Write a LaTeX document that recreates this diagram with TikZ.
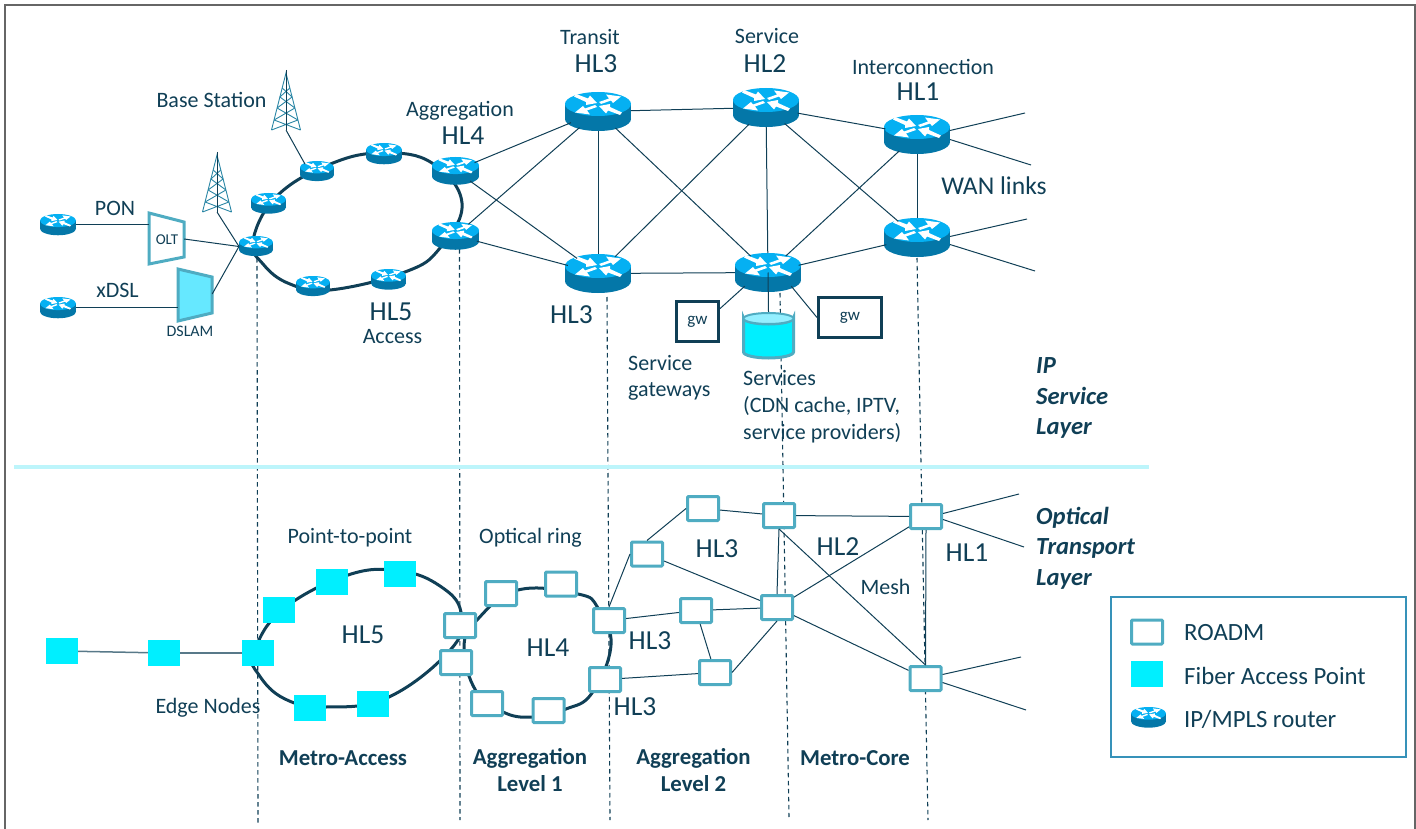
\documentclass[tikz,border=0pt]{standalone}
\usepackage{fontspec}
\setmainfont{Carlito}
\usetikzlibrary{shapes.geometric,backgrounds,calc}
\definecolor{ink}{HTML}{103F56}
\definecolor{rtop}{HTML}{05B0F2}
\definecolor{rside}{HTML}{0477A8}
\definecolor{teal}{HTML}{4FACC2}
\definecolor{aqua}{HTML}{00EFFF}
\definecolor{lightaqua}{HTML}{66E8FF}
\definecolor{tower}{HTML}{2A86A5}
\definecolor{sepline}{HTML}{BDF5FB}
\tikzset{
  routernode/.style={ellipse,inner sep=0pt,outer sep=0pt},
  link/.style={draw=ink,line width=1pt},
  ringline/.style={draw=ink,line width=3pt},
  dashline/.style={draw=ink,line width=1.1pt,dash pattern=on 4.5pt off 3.5pt},
  roadm/.style={draw=teal,fill=white,line width=3pt,rounded corners=1pt,minimum width=31pt,minimum height=24pt,inner sep=0pt},
  fap/.style={fill=aqua,minimum width=32pt,minimum height=26pt,inner sep=0pt},
  gwbox/.style={draw=ink,fill=white,line width=3pt,inner sep=0pt,text=ink,font=\fontsize{17}{19}\selectfont},
  lab/.style={text=ink,inner sep=0pt,font=\fontsize{22}{26}\selectfont,align=left},
  hl/.style={text=ink,inner sep=0pt,font=\fontsize{27.5}{30}\selectfont},
  bld/.style={text=ink,inner sep=0pt,font=\bfseries\fontsize{22.8}{27}\selectfont,align=center},
  layerlab/.style={text=ink,inner sep=0pt,font=\bfseries\itshape\fontsize{24.6}{30.5}\selectfont,align=left},
  leglab/.style={text=ink,inner sep=0pt,font=\fontsize{24.8}{28}\selectfont,anchor=west},
}
\newcommand{\routerart}[4]{%
  \pgfmathsetmacro{\rs}{#3/66}%
  \begin{scope}[shift={(#1,#2)},scale=\rs]
    \fill[rside] (0,27) ellipse [x radius=33,y radius=12];
    \fill[rside] (-33,12) rectangle (33,27);
    \fill[rtop] (0,12) ellipse [x radius=33,y radius=12];
    \begin{scope}[shift={(0,12.5)}]
      \foreach \r in {0,180}{
        \fill[white,rotate=\r] (1,-2.5) -- (11,-6) -- (8,-10) -- (23,-8) -- (15,-1.5) -- (13,-4) -- (3,-0.5) -- cycle;
        \fill[white,rotate=\r] (-24,-8) -- (-22,-10.5) -- (-10,-6) -- (-8,-9) -- (-1,-1.5) -- (-12,0.5) -- (-12,-2.5) -- cycle;
      }
    \end{scope}
  \end{scope}}
\newcommand{\router}[5]{% name, cx, top, width, height
  \routerart{#2}{#3}{#4}{}%
  \node[routernode,minimum width=#4pt,minimum height=#5pt] (#1) at (#2,#3+#5/2) {};}
\newcommand{\towerart}[3]{% name, x, apex y
  \begin{scope}[shift={(#2,#3)}]
    \draw[tower,line width=0.9pt] (-14.5,60) -- (0,3) -- (14.5,60);
    \foreach \a/\wa/\b/\wb in {18/3.8/27/6.1,27/6.1/38/8.9,38/8.9/50/11.9,50/11.9/60/14.5}{
      \draw[tower,line width=0.9pt] (-\wa,\a) -- (\wb,\b) (\wa,\a) -- (-\wb,\b);
    }
    \draw[ink,line width=1pt] (0,0) -- (0,60);
  \end{scope}
  \node[inner sep=0pt,minimum size=0pt] (#1) at (#2,#3+60) {};}
\begin{document}
\begin{tikzpicture}[x=1pt,y=-1pt]
\useasboundingbox (0,0) rectangle (1416,829);
% frame
\draw[draw=black!60,line width=2pt] (5,829) -- (5,5.5) -- (1414.5,5.5) -- (1414.5,829);
% separator
\fill[sepline] (14,464.5) rectangle (1149,468.5);

% routers
\router{T}{598}{92}{66}{39}
\router{Sv}{766}{88}{66}{39}
\router{Ia}{917}{115}{66}{39}
\router{Ib}{917}{218}{66}{39}
\router{Tb}{598}{254}{66}{39}
\router{Sb}{768}{253}{66}{39}
\router{Aa}{455.5}{157}{47}{27}
\router{Ab}{455.5}{222}{47}{27}
\router{pa}{58}{214}{36}{20.5}
\router{pb}{58}{297}{36}{20.5}
\router{hub}{256}{236}{34}{21}
\router{ra}{268.5}{193}{35}{20.5}
\router{rb}{317}{161}{34}{21}
\router{rc}{384}{143}{36}{20.5}
\router{rd}{313}{276}{34}{20.5}
\router{re}{388.5}{269}{35}{20.5}

% towers
\towerart{ta}{286}{70}
\towerart{tb}{217}{152}

% OLT, DSLAM
\node[inner sep=0pt,minimum width=35pt,minimum height=51pt] (olt) at (166.5,238.5) {};
\draw[draw=teal,fill=white,line width=3pt] (149,213) -- (184,222) -- (184,257) -- (149,264) -- cycle;
\node[inner sep=0pt,text=ink,font=\fontsize{15}{17}\selectfont] at (167,240) {OLT};
\node[inner sep=0pt,minimum width=34pt,minimum height=52pt] (dslam) at (195,295) {};
\draw[draw=teal,fill=lightaqua,line width=3pt] (178,269) -- (212,277) -- (212,313) -- (178,321) -- cycle;
\node[inner sep=0pt,text=ink,font=\fontsize{16}{18}\selectfont] at (190,331) {DSLAM};

% gateways and services
\node[gwbox,minimum width=42pt,minimum height=40pt] (gwa) at (697.5,321.5) {gw};
\node[gwbox,minimum width=63pt,minimum height=40pt] (gwb) at (850,317.5) {gw};
\node[inner sep=0pt,minimum width=53pt,minimum height=47pt] (cyl) at (768.5,335.5) {};
\draw[draw=teal,fill=aqua,line width=3pt] (743.5,318) -- (743.5,352) arc[start angle=180,end angle=0,x radius=25,y radius=6] -- (793.5,318) arc[start angle=0,end angle=180,x radius=25,y radius=6] -- cycle;
\draw[draw=teal,fill=lightaqua!70!white,line width=2pt] (768.5,318.5) ellipse [x radius=25,y radius=5.5];

% ROADMs
\node[roadm] (ra1) at (703,508.5) {};
\node[roadm] (ra2) at (647,554) {};
\node[roadm] (ra3) at (779,515.5) {};
\node[roadm] (ra4) at (926,516.5) {};
\node[roadm] (ra5) at (696,610.5) {};
\node[roadm] (ra6) at (777,607.5) {};
\node[roadm] (ra7) at (715,672.5) {};
\node[roadm] (ra8) at (925.5,678.5) {};
\node[roadm] (oa) at (609,620.5) {};
\node[roadm] (ob) at (605,679.5) {};
\node[roadm] (oc) at (561,584) {};
\node[roadm] (od) at (501,593.5) {};
\node[roadm] (oe) at (487,703.5) {};
\node[roadm] (of) at (548.5,710.5) {};
\node[roadm] (og) at (460,625.5) {};
\node[roadm] (oh) at (456,662.5) {};

% fiber access points
\node[fap] (sa) at (62,651) {};
\node[fap] (sb) at (164,653) {};
\node[fap] (sc) at (258,653) {};
\node[fap] (sd) at (279,610) {};
\node[fap] (se) at (332,582) {};
\node[fap] (sf) at (400,574) {};
\node[fap] (sg) at (310,708) {};
\node[fap] (sh) at (373,704) {};

% free ends
\coordinate (wa) at (1025,113);
\coordinate (wb) at (1031,165);
\coordinate (wc) at (1027,219);
\coordinate (wd) at (1035,271);
\coordinate (xa) at (1019,494);
\coordinate (xb) at (1024,547);
\coordinate (xc) at (1021,657);
\coordinate (xd) at (1026,710);

\begin{scope}[on background layer]
  % dashed drops
  \draw[dashline] (257,258) -- (258,823);
  \draw[dashline] (459.5,249) -- (460,820);
  \draw[dashline] (607,297) -- (610,820);
  \draw[dashline] (780,293) -- (789,817);
  \draw[dashline] (917,258) -- (928,820);
  % rings
  \draw[ringline] plot[smooth cycle,tension=0.7] coordinates {(253,240) (278,195) (333,163) (384,153) (432,163) (462,203) (440,248) (405,272) (330,290) (290,284) (263,264)};
  \draw[ringline] plot[smooth cycle,tension=0.7] coordinates {(254,653) (282,610) (348,575) (400,571) (440,586) (461,612) (452,648) (389,697) (326,707) (285,699) (259,675)};
  \draw[ringline] plot[smooth cycle,tension=0.7] coordinates {(464,648) (477,620) (518,590) (578,594) (598,608) (611,645) (592,693) (566,709) (532,717) (503,712) (476,691)};
\end{scope}

% IP mesh
\draw[link] (Aa) -- (T);
\draw[link] (Aa) -- (Tb);
\draw[link] (Ab) -- (T);
\draw[link] (Ab) -- (Tb);
\draw[link] (T) -- (Sv);
\draw[link] (T) -- (Tb);
\draw[link] (T) -- (Sb);
\draw[link] (Tb) -- (Sv);
\draw[link] (Tb) -- (Sb);
\draw[link] (Sv) -- (Sb);
\draw[link] (Sv) -- (Ia);
\draw[link] (Sv) -- (Ib);
\draw[link] (Sb) -- (Ia);
\draw[link] (Sb) -- (Ib);
\draw[link] (Ia) -- (Ib);
\draw[link] ($(Ia.east)+(0,-4)$) -- (wa);
\draw[link] ($(Ia.east)+(0,5)$) -- (wb);
\draw[link] ($(Ib.east)+(0,-1)$) -- (wc);
\draw[link] ($(Ib.east)+(0,7)$) -- (wd);
\draw[link] (Sb.south west) -- ($(gwa.north east)!0.2!(gwa.south east)$);
\draw[link] (Sb.south east) -- (gwb.west);
\draw[link] (Sb.center) -- (cyl.north);
% access
\draw[link] (pa.east) -- (pa.east -| olt.west);
\draw[link] (pb.east) -- (pb.east -| dslam.west);
\draw[link] ($(olt.east)+(0,0.5)$) -- (hub.west);
\draw[link] ($(dslam.east)+(0,-1)$) -- (hub.west);
\draw[link] (tb) -- (hub.west);
\draw[link] (ta) -- (rb.north west);
% optical mesh
\draw[link] (ra2.north) -- (ra1.west);
\draw[link] (ra1) -- (ra3);
\draw[link] (oa.north) -- (ra2.west);
\draw[link] (ra2) -- (ra6);
\draw[link] (ra3) -- (ra4);
\draw[link] (ra3.south) -- (ra6.north);
\draw[link] (ra3.south) -- (ra8.north);
\draw[link] (ra4) -- (ra6);
\draw[link] (ra4.south) -- (ra8.north);
\draw[link] (ra6) -- (ra8);
\draw[link] (oa) -- (ra5);
\draw[link] (ra5) -- (ra6);
\draw[link] (ra5) -- (ra7);
\draw[link] (ob) -- (ra7);
\draw[link] (ra7.east) -- (ra6.south);
\draw[link] ($(ra4.east)+(0,-3)$) -- (xa);
\draw[link] ($(ra4.east)+(0,3)$) -- (xb);
\draw[link] ($(ra8.east)+(0,-4)$) -- (xc);
\draw[link] ($(ra8.east)+(0,4)$) -- (xd);
\draw[draw=ink!70!white,line width=1.5pt] (sa) -- (sb);
\draw[draw=ink!70!white,line width=1.5pt] (sb) -- (sc);

% labels
\node[lab] at (211.5,100) {Base Station};
\node[lab] at (115,208) {PON};
\node[lab] at (117.5,290) {xDSL};
\node[hl] at (391,312) {HL5};
\node[lab] at (392.5,337) {Access};
\node[lab] at (460,110.5) {Aggregation};
\node[hl] at (463,136) {HL4};
\node[lab] at (590,37) {Transit};
\node[hl] at (596,64) {HL3};
\node[lab] at (767,36) {Service};
\node[hl] at (765,64) {HL2};
\node[lab] at (923,67) {Interconnection};
\node[hl] at (918,92) {HL1};
\node[lab,font=\fontsize{25.6}{28}\selectfont] at (994,186) {WAN links};
\node[hl] at (571.5,315) {HL3};
\node[lab,anchor=west] at (628,377.5) {Service\\gateways};
\node[lab,anchor=west,font=\fontsize{22}{27}\selectfont] at (743,406.5) {Services\\(CDN cache, IPTV,\\service providers)};
\node[layerlab,anchor=west] at (1036,398) {IP\\Service\\Layer};
\node[layerlab,anchor=west] at (1036,548) {Optical\\Transport\\Layer};
\node[lab] at (350,538) {Point-to-point};
\node[lab] at (530.5,538) {Optical ring};
\node[hl] at (363,635) {HL5};
\node[lab] at (208,708) {Edge Nodes};
\node[bld] at (343,758) {Metro-Access};
\node[bld] at (530,770.5) {Aggregation\\Level 1};
\node[bld] at (693.5,770.5) {Aggregation\\Level 2};
\node[bld] at (855,758) {Metro-Core};
\node[hl] at (548,648) {HL4};
\node[hl] at (717,549) {HL3};
\node[hl] at (838,547) {HL2};
\node[hl] at (967,553) {HL1};
\node[lab] at (885.5,587) {Mesh};
\node[hl] at (650,641) {HL3};
\node[hl] at (635,707) {HL3};

% legend
\node[draw=rside!80!white,line width=1.5pt,minimum width=295pt,minimum height=160pt,inner sep=0pt] (legend) at (1258.5,677) {};
\node[roadm] (lga) at (1147,632) {};
\node[fap] (lgb) at (1147,674) {};
\router{lgc}{1148.5}{707}{35}{20.5}
\node[leglab] at (1184,633) {ROADM};
\node[leglab] at (1184,676) {Fiber Access Point};
\node[leglab] at (1184,719) {IP/MPLS router};
\end{tikzpicture}
\end{document}
